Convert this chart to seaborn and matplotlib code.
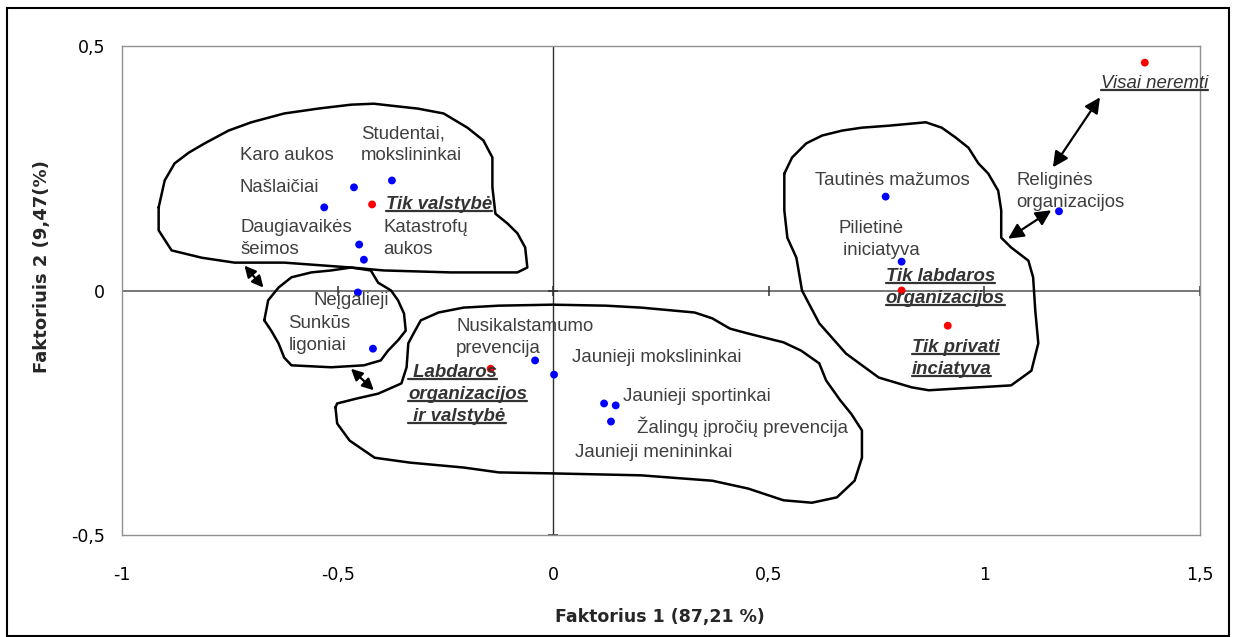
import numpy as np
import pandas as pd
import matplotlib
matplotlib.use('Agg')
import matplotlib.pyplot as plt
import seaborn as sns
from matplotlib.lines import Line2D
from matplotlib.patches import Rectangle

# paramos gavejai (melyni taskai)
gavejai_x = [-0.374, -0.462, -0.531, -0.450, -0.439, -0.453, -0.418, -0.042, 0.002,
             0.118, 0.145, 0.134, 0.771, 0.808, 1.173]
gavejai_y = [0.225, 0.211, 0.170, 0.094, 0.063, -0.004, -0.119, -0.143, -0.172,
             -0.231, -0.235, -0.268, 0.192, 0.059, 0.162]

# remejai (raudoni taskai)
remejai_x = [-0.420, -0.145, 0.808, 0.915, 1.372]
remejai_y = [0.176, -0.160, 0.000, -0.072, 0.466]

# uzrasai: eilutes, kaires x, pirmos eilutes y
zymes = [["Karo aukos"], ["Studentai,", "mokslininkai"], ["Našlaičiai"],
         ["Daugiavaikės", "šeimos"], ["Katastrofų", "aukos"], ["Neįgalieji"],
         ["Sunkūs", "ligoniai"], ["Nusikalstamumo", "prevencija"],
         ["Jaunieji mokslininkai"], ["Jaunieji sportinkai"],
         ["Žalingų įpročių prevencija"], ["Jaunieji menininkai"],
         ["Tautinės mažumos"], ["Pilietinė", " iniciatyva"],
         ["Religinės", "organizacijos"]]
zymes_x = [-0.727, -0.446, -0.727, -0.725, -0.393, -0.557, -0.614, -0.225,
           0.043, 0.161, 0.194, 0.050, 0.607, 0.661, 1.074]
zymes_y = [0.276, 0.321, 0.211, 0.129, 0.129, -0.020, -0.067, -0.074,
           -0.137, -0.217, -0.278, -0.331, 0.225, 0.127, 0.225]

grupes = [["Tik valstybė"], [" Labdaros", "organizacijos", " ir valstybė"],
          ["Tik labdaros", "organizacijos"], ["Tik privati", "inciatyva"],
          ["Visai neremti"]]
grupes_x = [-0.388, -0.336, 0.771, 0.831, 1.270]
grupes_y = [0.176, -0.168, 0.029, -0.117, 0.423]
grupes_bold = [True, True, True, True, False]

# ranka nupiesti konturai
kontur1 = [(-0.915, 0.170), (-0.901, 0.225), (-0.878, 0.260), (-0.845, 0.282), (-0.808, 0.301),
           (-0.753, 0.327), (-0.700, 0.344), (-0.624, 0.362), (-0.545, 0.372), (-0.469, 0.380),
           (-0.416, 0.382), (-0.376, 0.378), (-0.314, 0.372), (-0.254, 0.362), (-0.199, 0.333),
           (-0.162, 0.307), (-0.141, 0.272), (-0.141, 0.211), (-0.134, 0.157), (-0.106, 0.137),
           (-0.083, 0.117), (-0.065, 0.088), (-0.060, 0.047), (-0.083, 0.037), (-0.238, 0.037),
           (-0.393, 0.041), (-0.469, 0.047), (-0.624, 0.057), (-0.739, 0.057), (-0.815, 0.067),
           (-0.885, 0.082), (-0.915, 0.123)]
kontur2 = [(-0.670, -0.061), (-0.661, -0.020), (-0.637, 0.006), (-0.607, 0.027), (-0.561, 0.037),
           (-0.515, 0.041), (-0.469, 0.047), (-0.423, 0.041), (-0.406, 0.016), (-0.376, 0.000),
           (-0.360, -0.020), (-0.346, -0.047), (-0.342, -0.082), (-0.360, -0.102), (-0.383, -0.123),
           (-0.400, -0.143), (-0.439, -0.153), (-0.515, -0.157), (-0.607, -0.153), (-0.624, -0.137),
           (-0.637, -0.108), (-0.654, -0.082)]
kontur3 = [(-0.505, -0.239), (-0.501, -0.272), (-0.472, -0.307), (-0.414, -0.342), (-0.332, -0.352),
           (-0.208, -0.362), (-0.126, -0.372), (-0.002, -0.374), (0.204, -0.378), (0.369, -0.389),
           (0.452, -0.405), (0.534, -0.429), (0.600, -0.434), (0.658, -0.423), (0.699, -0.389),
           (0.716, -0.342), (0.716, -0.286), (0.691, -0.252), (0.666, -0.225), (0.633, -0.184),
           (0.617, -0.149), (0.575, -0.123), (0.534, -0.106), (0.452, -0.088), (0.410, -0.078),
           (0.369, -0.057), (0.328, -0.045), (0.204, -0.035), (0.122, -0.031), (-0.002, -0.029),
           (-0.126, -0.031), (-0.208, -0.035), (-0.266, -0.045), (-0.307, -0.061), (-0.324, -0.088),
           (-0.336, -0.108), (-0.340, -0.157), (-0.352, -0.190), (-0.406, -0.211), (-0.456, -0.221),
           (-0.501, -0.231)]
kontur4 = [(0.536, 0.239), (0.554, 0.272), (0.587, 0.301), (0.624, 0.317), (0.670, 0.327),
           (0.716, 0.333), (0.778, 0.337), (0.864, 0.344), (0.901, 0.333), (0.933, 0.313),
           (0.963, 0.292), (0.986, 0.260), (1.009, 0.239), (1.032, 0.204), (1.039, 0.164),
           (1.039, 0.108), (1.062, 0.088), (1.102, 0.061), (1.113, 0.027), (1.118, -0.041),
           (1.125, -0.108), (1.109, -0.164), (1.062, -0.194), (0.986, -0.198), (0.871, -0.204),
           (0.831, -0.198), (0.755, -0.178), (0.679, -0.129), (0.617, -0.067), (0.577, 0.000),
           (0.564, 0.067), (0.543, 0.108), (0.536, 0.164)]

rodykles = [((-0.716, 0.051), (-0.672, 0.006)), ((-0.469, -0.160), (-0.416, -0.204)),
            ((1.055, 0.106), (1.155, 0.164)), ((1.159, 0.252), (1.268, 0.395))]
rodykles_dydis = [17, 17, 23, 23]

x_ticks = [-1, -0.5, 0, 0.5, 1, 1.5]
x_labels = ['-1', '-0,5', '0', '0,5', '1', '1,5']
y_ticks = [-0.5, 0, 0.5]
y_labels = ['-0,5', '0', '0,5']

sns.set_style('white')
plt.rcParams['font.family'] = ['Liberation Sans', 'DejaVu Sans']

fig = plt.figure(figsize=(12.36, 6.37), dpi=100)
ax = fig.add_axes([122/1236, 1-535/637, 1078/1236, 489/637])

df = pd.DataFrame({
    'x': gavejai_x + remejai_x,
    'y': gavejai_y + remejai_y,
    'grupe': ['gavejai'] * len(gavejai_x) + ['remejai'] * len(remejai_x)})

ax.axhline(0, color='#606060', lw=1.2, zorder=1)
ax.axvline(0, color='#303030', lw=1.0, zorder=1)
ax.plot(x_ticks, [0] * len(x_ticks), ls='none', marker='|', ms=7, mew=1.1, color='#303030')
ax.plot([0] * len(y_ticks), y_ticks, ls='none', marker='_', ms=7, mew=1.1, color='#303030')

sns.scatterplot(data=df, x='x', y='y', hue='grupe', palette={'gavejai': '#0000FF', 'remejai': '#FF0000'},
                s=32, edgecolor='none', legend=False, ax=ax, zorder=3)

for k in [kontur1, kontur2, kontur3, kontur4]:
    pts = np.array(k + [k[0]])
    ax.plot(pts[:, 0], pts[:, 1], color='black', lw=1.8, zorder=2, solid_joinstyle='round')

for (a, b), m in zip(rodykles, rodykles_dydis):
    ax.annotate('', xy=b, xytext=a,
                arrowprops=dict(arrowstyle='<|-|>', color='black', lw=1.6, mutation_scale=m,
                                shrinkA=0, shrinkB=0))

ax.set_xlim(-1, 1.5)
ax.set_ylim(-0.5, 0.5)
ax.set_xticks(x_ticks)
ax.set_xticklabels(x_labels, family='DejaVu Sans', fontsize=12.5)
ax.set_yticks(y_ticks)
ax.set_yticklabels(y_labels, family='DejaVu Sans', fontsize=12.5)
ax.tick_params(axis='x', length=0, pad=22, colors='black')
ax.tick_params(axis='y', length=0, pad=12, colors='black')
ax.set_xlabel('')
ax.set_ylabel('')
for s in ax.spines.values():
    s.set_color('#909090')
    s.set_linewidth(1.0)

zingsnis = 0.045
for lines, lx, ly in zip(zymes, zymes_x, zymes_y):
    for i, t in enumerate(lines):
        ax.text(lx, ly - i * zingsnis, t, ha='left', va='center', fontsize=13.4, color='#3f3f3f', zorder=4)

pabraukti = []
for lines, lx, ly, b in zip(grupes, grupes_x, grupes_y, grupes_bold):
    for i, t in enumerate(lines):
        tx = ax.text(lx, ly - i * zingsnis, t, ha='left', va='center', fontsize=13.4,
                     fontweight='bold' if b else 'normal', fontstyle='italic',
                     color='#333333', zorder=4)
        pabraukti.append(tx)

fig.text(660/1236, 1-617/637, 'Faktorius 1 (87,21 %)', ha='center', va='center',
         fontsize=12.5, fontweight='bold', family='DejaVu Sans')
fig.text(42/1236, 1-267/637, 'Faktoriuis 2 (9,47(%)', ha='center', va='center', rotation=90,
         fontsize=13, fontweight='bold', family='DejaVu Sans')

fig.patches.append(Rectangle((7/1236, 1/637), 1222/1236, 628/637, transform=fig.transFigure,
                             fill=False, edgecolor='black', lw=1.5))

fig.canvas.draw()
r = fig.canvas.get_renderer()
for tx in pabraukti:
    bb = tx.get_window_extent(r)
    y0 = bb.y0 + 2
    fig.add_artist(Line2D([bb.x0, bb.x1], [y0, y0], transform=None, color='#333333', lw=1.6))

fig.savefig('out.png', dpi=100)
